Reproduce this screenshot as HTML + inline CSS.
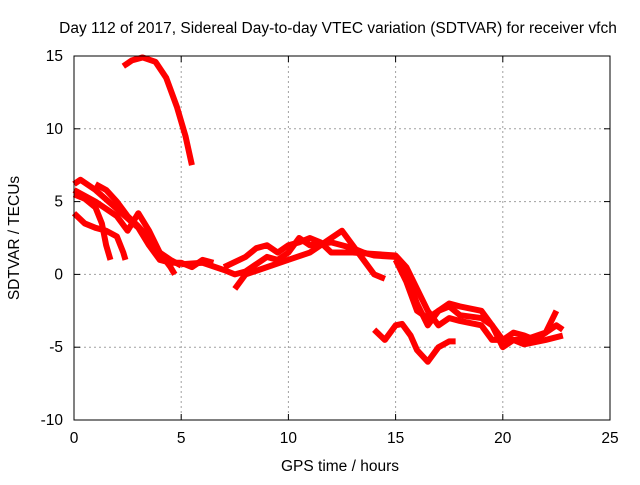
<!DOCTYPE html>
<html><head><meta charset="utf-8"><style>
body{margin:0;background:#fff;}
svg text{font-family:"Liberation Sans",sans-serif;font-size:15.5px;fill:#000;}
</style></head><body>
<svg id="chart" width="640" height="480">
<text x="338" y="33" text-anchor="middle">Day 112 of 2017, Sidereal Day-to-day VTEC variation (SDTVAR) for receiver vfch</text>
<g id="grid"></g><g id="series"></g><g id="axes"></g>
<text x="340" y="471" text-anchor="middle">GPS time / hours</text>
<text transform="translate(19,238) rotate(-90)" text-anchor="middle">SDTVAR / TECUs</text>
</svg>
<script>
const xTicks=[0,5,10,15,20,25];
const yTicks=[15,10,5,0,-5,-10];
const trackTop=[[2.3,14.3],[2.7,14.7],[3.2,14.9],[3.8,14.6],[4.3,13.5],[4.8,11.5],[5.2,9.5],[5.5,7.5]];
const trackB=[[0,6.2],[0.3,6.5],[1,5.8],[2,4.5],[3,3.2],[3.5,2],[4,1],[4.5,0.8],[5,0.8],[5.5,0.5],[6,1],[6.5,0.8]];
const trackC=[[0,5.5],[0.5,5.2],[1,4.6],[1.3,3.5],[1.5,2],[1.7,1]];
const trackD=[[0,4.2],[0.5,3.5],[1,3.2],[1.5,3],[2,2.6],[2.3,1.5],[2.4,1]];
const trackE=[[1,6.2],[1.5,5.8],[2,5],[2.5,4],[3,3.3],[3.5,2.5],[4,1.5],[4.5,0.5],[4.7,0]];
const trackF=[[0,5.8],[1,5],[2,4],[2.5,3],[3,4.2],[3.5,3],[4,1.5],[4.5,1],[5,0.6]];
const trackG=[[5,0.7],[6,0.8],[7,0.3],[7.5,0],[8,0.2],[9,1.2],[9.5,1],[10,1.5],[10.5,2.5],[11,2],[12,2.2],[12.5,2],[13,1.8],[13.5,1.5],[14,1.3],[15,1.2],[15.5,0],[16,-2],[16.5,-3.5],[17,-2.5],[17.5,-2],[18,-2.2],[19,-2.5],[19.5,-3.5],[20,-4.5],[20.5,-4],[21,-4.2],[21.5,-4.5],[22,-4],[22.5,-3.5],[22.8,-3.8]];
const trackH=[[7.5,-1],[8,0],[9,0.5],[10,1],[11,1.5],[12,2.5],[12.5,3],[13,2],[13.5,1],[14,0],[14.5,-0.3]];
const trackI=[[7,0.5],[8,1.2],[8.5,1.8],[9,2],[9.5,1.5],[10,2],[10.5,2.2],[11,2.5],[11.5,2.2],[12,1.5],[13,1.5],[14,1.4],[15,1.3],[15.5,0.5],[16,-1],[16.5,-2.5],[17,-3.5],[17.5,-3],[18,-3.2],[19,-3.5],[19.5,-4.5],[20,-4.5],[20.5,-4.5],[21,-4.8],[22,-4.5],[22.8,-4.2]];
const trackJ=[[14,-3.8],[14.5,-4.5],[15,-3.5],[15.3,-3.4],[15.7,-4.2],[16,-5.2],[16.5,-6],[17,-5],[17.5,-4.6],[17.8,-4.6]];
const trackK=[[15,1],[15.5,-0.5],[16,-2.5],[16.5,-3],[17,-2.5],[17.5,-2.2],[18,-2.8],[19,-3],[19.5,-3.5],[20,-5],[20.5,-4.5],[21,-4.5],[22,-4],[22.5,-2.5]];
const tracks=[trackTop,trackB,trackC,trackD,trackE,trackF,trackG,trackH,trackI,trackJ,trackK];
const X0=74,X1=610,Y0=56,Y1=420;
const sx=v=>X0+(v-0)/25*(X1-X0);
const sy=v=>Y1-(v+10)/25*(Y1-Y0);
const NS="http://www.w3.org/2000/svg";
function mk(t,a,p){const e=document.createElementNS(NS,t);for(const k in a)e.setAttribute(k,a[k]);p.appendChild(e);return e;}
const grid=document.getElementById('grid'),axes=document.getElementById('axes'),ser=document.getElementById('series');
xTicks.forEach(t=>{
 if(t>0&&t<25){const l=mk('line',{x1:sx(t),x2:sx(t),y1:Y0,y2:Y1,stroke:'#a0a0a0','stroke-dasharray':'2,3'},grid);
 
 }
 const tx=mk('text',{x:sx(t),y:Y1+23,'text-anchor':'middle'},axes);tx.textContent=t;
 
 
 mk('line',{x1:sx(t),x2:sx(t),y1:Y1,y2:Y1-6,stroke:'#000'},axes);
 mk('line',{x1:sx(t),x2:sx(t),y1:Y0,y2:Y0+6,stroke:'#000'},axes);
});
yTicks.forEach(t=>{
 if(t>-10&&t<15){const l=mk('line',{x1:X0,x2:X1,y1:sy(t),y2:sy(t),stroke:'#a0a0a0','stroke-dasharray':'2,3'},grid);
 
 }
 const tx=mk('text',{x:X0-11,y:sy(t)+5,'text-anchor':'end'},axes);tx.textContent=t;
 
 
 mk('line',{x1:X0,x2:X0+6,y1:sy(t),y2:sy(t),stroke:'#000'},axes);
 mk('line',{x1:X1,x2:X1-6,y1:sy(t),y2:sy(t),stroke:'#000'},axes);
});
const fr=mk('rect',{x:X0,y:Y0,width:X1-X0,height:Y1-Y0,fill:'none',stroke:'#000'},axes);


tracks.forEach(tr=>{
 const p=mk('polyline',{points:tr.map(d=>sx(d[0])+','+sy(d[1])).join(' '),fill:'none',stroke:'#ff0000','stroke-width':6,'stroke-linejoin':'round'},ser);
 
 
});
</script>
</body></html>
